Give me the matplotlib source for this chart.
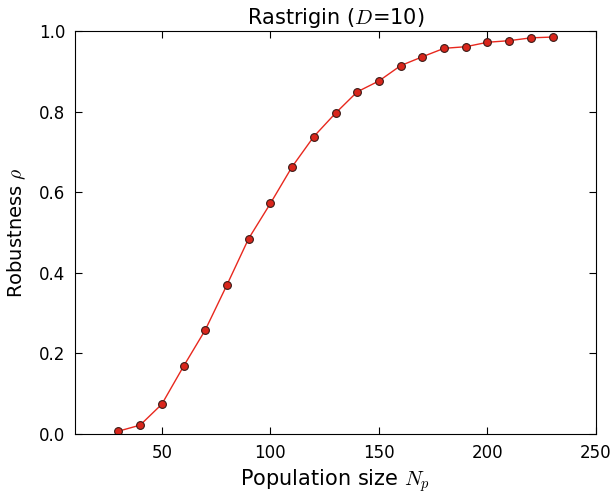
import matplotlib
matplotlib.use("Agg")
import matplotlib.pyplot as plt

pop_size = [30, 40, 50, 60, 70, 80, 90, 100, 110, 120, 130, 140, 150, 160, 170, 180, 190, 200, 210, 220, 230]
robustness = [0.007, 0.022, 0.074, 0.168, 0.258, 0.370, 0.485, 0.572, 0.663, 0.738, 0.796, 0.849, 0.876,
              0.914, 0.936, 0.957, 0.961, 0.972, 0.976, 0.983, 0.985]

plt.rcParams['mathtext.fontset'] = 'cm'
plt.rcParams['font.family'] = 'DejaVu Sans'

fig = plt.figure(figsize=(6.13, 4.94), dpi=100)
ax = fig.add_axes([75 / 613, 60 / 494, (596 - 75) / 613, (434 - 31) / 494])
ax.plot(pop_size, robustness, '-', color='#e8281e', lw=1.0,
        marker='o', markersize=5.6, markerfacecolor='#d9261c', markeredgecolor='#3a1a16', markeredgewidth=0.8)
ax.set_xlim(10, 250)
ax.set_ylim(0, 1.0)
ax.set_xticks([50, 100, 150, 200, 250])
ax.set_yticks([0.0, 0.2, 0.4, 0.6, 0.8, 1.0])
ax.tick_params(direction='in', top=True, right=True, labelsize=12, length=5, pad=7)
ax.set_xlabel(r'Population size $N_p$', fontsize=15, labelpad=4)
ax.set_ylabel(r'Robustness $\rho$', fontsize=14, labelpad=8)
ax.set_title(r'Rastrigin ($D$=10)', fontsize=15, pad=5)
fig.savefig('out.png', dpi=100)
